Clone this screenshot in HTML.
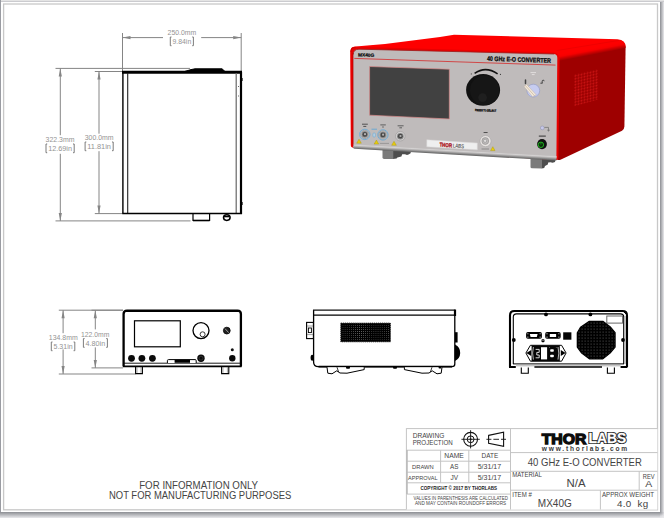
<!DOCTYPE html>
<html>
<head>
<meta charset="utf-8">
<title>MX40G Drawing</title>
<style>
html,body{margin:0;padding:0;background:#fff;overflow:hidden;}
body{width:664px;height:518px;position:relative;font-family:"Liberation Sans",sans-serif;}
svg{position:absolute;left:0;top:0;display:block;}
text{font-family:"Liberation Sans",sans-serif;}
.dim{stroke:#858585;stroke-width:1;fill:none;}
.dimtxt{fill:#939393;font-size:6.9px;}
.arrow{fill:#858585;stroke:none;}
.blk{stroke:#000;fill:none;}
.tb{stroke:#c4c4c4;stroke-width:1;fill:none;}
.tt{fill:#444;}
</style>
</head>
<body>
<svg width="664" height="518" viewBox="0 0 664 518">
<defs>
<linearGradient id="shR" x1="0" y1="0" x2="1" y2="0">
<stop offset="0" stop-color="#8c8e93"/><stop offset="1" stop-color="#e9e9ec"/>
</linearGradient>
<linearGradient id="shB" x1="0" y1="0" x2="0" y2="1">
<stop offset="0" stop-color="#8c8e93"/><stop offset="1" stop-color="#e9e9ec"/>
</linearGradient>
<radialGradient id="shC" gradientUnits="userSpaceOnUse" cx="660" cy="512" r="6"><stop offset="0" stop-color="#8c8e93"/><stop offset="0.7" stop-color="#dcdce0"/><stop offset="1" stop-color="#e9e9ec"/></radialGradient>
</defs>
<!-- PAGE FRAME -->
<g id="frame">
<rect x="0" y="0" width="664" height="518" fill="#fff"/>
<rect x="0" y="0" width="664" height="1" fill="#e4e4e4"/>
<rect x="0" y="1" width="664" height="1" fill="#cbcbcf"/>
<rect x="0" y="0" width="1" height="518" fill="#9a9ca2"/>
<rect x="660" y="2" width="4" height="510" fill="url(#shR)"/>
<rect x="0" y="512" width="660" height="6" fill="url(#shB)"/>
<rect x="660" y="512" width="4" height="6" fill="url(#shC)"/>
<rect x="3.6" y="4" width="653.9" height="505.8" fill="none" stroke="#c8c8c8" stroke-width="1.3"/>
</g>
<!-- TOPVIEW -->
<g id="topview">
<!-- 250 dim -->
<path class="dim" d="M122.5 33V71 M241.2 33V71 M122.5 37.6H163 M201.2 37.6H241.2"/>
<path class="arrow" d="M122.5 37.6l8-1.6v3.2z M241.2 37.6l-8-1.6v3.2z"/>
<text class="dimtxt" x="167.6" y="35" textLength="28.7" lengthAdjust="spacingAndGlyphs">250.0mm</text>
<path d="M171.5 37.0H170.3V45.7H171.5 M192.2 37.0H193.4V45.7H192.2" stroke="#757575" stroke-width="0.95" fill="none"/><text class="dimtxt" x="172.5" y="44" textLength="18.7" lengthAdjust="spacingAndGlyphs">9.84in</text>
<!-- 322.3 dim -->
<path class="dim" d="M55.5 68.4H190 M55.5 220.9H190.5 M60.3 68.4V135.2 M60.3 153.8V220.9"/>
<path class="arrow" d="M60.3 68.4l-1.6 8h3.2z M60.3 220.9l-1.6-8h3.2z"/>
<text class="dimtxt" x="45.6" y="142" textLength="28.9" lengthAdjust="spacingAndGlyphs">322.3mm</text>
<path d="M47.2 144.0H46.0V152.7H47.2 M73.0 144.0H74.2V152.7H73.0" stroke="#757575" stroke-width="0.95" fill="none"/><text class="dimtxt" x="48.2" y="151" textLength="23.8" lengthAdjust="spacingAndGlyphs">12.69in</text>
<!-- 300 dim -->
<path class="dim" d="M94.8 71.5H122 M94.8 213.6H122 M99 71.5V133.7 M99 151.2V213.6"/>
<path class="arrow" d="M99 71.5l-1.6 8h3.2z M99 213.6l-1.6-8h3.2z"/>
<text class="dimtxt" x="84.7" y="140" textLength="28.9" lengthAdjust="spacingAndGlyphs">300.0mm</text>
<path d="M86.3 142.0H85.1V150.7H86.3 M112.0 142.0H113.2V150.7H112.0" stroke="#757575" stroke-width="0.95" fill="none"/><text class="dimtxt" x="87.3" y="149" textLength="23.7" lengthAdjust="spacingAndGlyphs">11.81in</text>
<!-- body -->
<path d="M122 72.3H242" stroke="#000" stroke-width="3" fill="none"/>
<path d="M184.5 71.5L191 69.6L195 68.8H222L225 71.5z" fill="#000" stroke="#000" stroke-width="1"/>
<path d="M122.9 72V213.5" stroke="#000" stroke-width="1.4" fill="none"/>
<path d="M127.7 73V213.5" stroke="#222" stroke-width="1.1" fill="none"/>
<path d="M241 72V214" stroke="#000" stroke-width="2.2" fill="none"/>
<path d="M236.2 73V213.5" stroke="#666" stroke-width="1.2" fill="none"/>
<path d="M122.2 213.5H242" stroke="#000" stroke-width="1.3" fill="none"/>
<path d="M193 214V220.5H209.6V214" stroke="#000" stroke-width="1.2" fill="none"/>
<path d="M193 220.5H209.6" stroke="#000" stroke-width="1.6" fill="none"/>
<ellipse cx="226.8" cy="217.6" rx="3.3" ry="2.8" fill="#fff" stroke="#000" stroke-width="1.5"/>
<path d="M224 216.6H229.6" stroke="#000" stroke-width="1.4"/>
<path d="M238.5 86v1 M238.5 95.5v1" stroke="#444" stroke-width="0.8"/>
<path d="M242 78v3 M242 202v3" stroke="#000" stroke-width="1.2"/>
</g>
<!-- ISO -->
<g id="iso">
<defs>
<linearGradient id="edgeG" gradientUnits="userSpaceOnUse" x1="590.8" y1="48.6" x2="592" y2="54.9">
<stop offset="0" stop-color="#fd0000"/><stop offset="0.3" stop-color="#f60000"/><stop offset="0.7" stop-color="#c40000"/><stop offset="1" stop-color="#9e0000"/>
</linearGradient>
<linearGradient id="botG" gradientUnits="userSpaceOnUse" x1="450" y1="149.9" x2="449.74" y2="154.4">
<stop offset="0" stop-color="#c8c5c5"/><stop offset="0.18" stop-color="#d4d2d2"/><stop offset="0.45" stop-color="#b0aeae"/><stop offset="0.75" stop-color="#808080"/><stop offset="1" stop-color="#626262"/>
</linearGradient>
<radialGradient id="knobG" cx="0.5" cy="0.78" r="0.22">
<stop offset="0" stop-color="#2c2c2c"/><stop offset="0.8" stop-color="#181818"/><stop offset="1" stop-color="#101010"/>
</radialGradient>
</defs>
<!-- feet -->
<path d="M393 149.5L411 151L410.6 153.2L408.6 154.6L407 155L405 154.2L402.2 154.2L401.4 156.6L397.4 157.4L396.6 158.6L393 159z" fill="#4e4e4e"/>
<path d="M382.5 149H393.3V159L384 158.9Q382.5 158.8 382.5 157.5z" fill="#7b7b7b"/>
<path d="M541.8 158.5L555.6 159.5L555 162L552.6 162.8L550.4 162.2L548.2 162.4L547.8 164.6L545 166L544.2 168L541.8 168.4z" fill="#4e4e4e"/>
<path d="M530.5 158H542V168.4L532 168.3Q530.5 168.2 530.5 167z" fill="#7b7b7b"/>
<!-- top face -->
<path d="M351.2 48.5Q352 46.6 356 46.4L370 45.3L385 44L440 36.9L454 34.7L617.5 39.2Q625.6 39.6 625.6 47L559.5 62L556 56L352 50z" fill="#fe0000"/>
<!-- side face -->
<path d="M557.5 58L625.6 46.6L624.4 126.5Q624.3 129.5 622 130.8L561 159.6Q556.6 161.4 556.4 157z" fill="#9e0000"/>
<!-- rounded edge gradient -->
<path d="M556.5 50.6L619 40.2Q625.6 40.5 625.6 48L559.6 62.2L557 57z" fill="url(#edgeG)"/>
<path d="M556.5 50.6L619 40.4" stroke="#e60000" stroke-width="0.6" fill="none"/>
<!-- front face red frame -->
<path d="M350.2 52Q350.2 46.6 355.5 46.8L553 52.4Q559.6 52.6 559.6 59L558.4 157Q558.3 160.4 556 160L353.5 147.8Q350.8 147.8 350.8 145z" fill="#e80000"/>
<path d="M350.9 52Q350.8 47.4 355.5 47.6" stroke="#c00000" stroke-width="0.8" fill="none"/>
<!-- front gray panel -->
<path d="M353 55Q353 49.1 359 49.3L553.5 54Q557.4 54.2 557.3 58L556.4 158.2L353.2 146.6z" fill="#bfbbbb"/>
<!-- bottom bevel -->
<path d="M353.1 144.2L556.6 156.1L556.4 160.6L354.4 148.8Q353 148.6 353.1 147z" fill="url(#botG)"/>
<path d="M353 53V146" stroke="#b00000" stroke-width="0.7" fill="none"/>
<path d="M353.2 54.5Q353.4 49.2 359 49.2L554 54" stroke="#9a1c1c" stroke-width="0.8" fill="none"/>
<!-- title line -->
<path d="M354.3 58.4L555.5 65.1" stroke="#d23a3a" stroke-width="0.9" fill="none"/>
<text x="0" y="0" font-size="4.7" font-weight="bold" fill="#0a0a0a" stroke="#0a0a0a" stroke-width="0.2" transform="translate(358 56.4) rotate(1.5) scale(1.02 1)">MX40G</text>
<text x="0" y="0" font-size="6.5" font-weight="bold" fill="#0a0a0a" stroke="#0a0a0a" stroke-width="0.25" transform="translate(486.9 60.7) rotate(1.9) scale(0.823 1)">40 GHz E-O CONVERTER</text>
<!-- screen -->
<path d="M369.6 66.5L449.3 69.2L449.3 119L369.6 115.2z" fill="#414141" stroke="#d88a8a" stroke-width="0.7"/>
<!-- knob -->
<path d="M474.6 73.4Q485.6 65.6 497.6 73.9" stroke="#111" stroke-width="1.5" fill="none"/>
<circle cx="471.3" cy="73.9" r="0.55" fill="#444"/><circle cx="500.4" cy="74.4" r="0.55" fill="#333"/>
<ellipse cx="483.1" cy="89.9" rx="17" ry="15.9" fill="#111111"/>
<ellipse cx="484.6" cy="90.2" rx="14.6" ry="14.8" fill="#161616"/>
<circle cx="482.6" cy="97.6" r="4.3" fill="#1f1f1f"/>
<text x="0" y="0" font-size="3" font-weight="bold" fill="#0a0a0a" stroke="#0a0a0a" stroke-width="0.3" transform="translate(475 111.1) rotate(2) scale(0.76 1)">PRESS TO SELECT</text>
<!-- vents -->
<defs>
<pattern id="vent" width="3" height="2.9" patternUnits="userSpaceOnUse" patternTransform="matrix(1 -0.225 0 1 574 74.6)">
<rect width="3" height="2.9" fill="#9a0000"/><ellipse cx="1.5" cy="1.5" rx="1.2" ry="0.95" fill="#c81212" transform="rotate(-25 1.5 1.5)"/>
</pattern>
</defs>
<path d="M574 74.6L598 69.2V99.4L574 106.4z" fill="url(#vent)"/>
<!-- connectors -->
<g>
<circle cx="364.8" cy="134.4" r="5.2" fill="#c4d3df" stroke="#5fa6d6" stroke-width="0.8"/>
<circle cx="364.8" cy="134.4" r="4.2" fill="#cfcdcd" stroke="#808080" stroke-width="0.6"/>
<circle cx="364.8" cy="134.4" r="3.3" fill="#8c8c8c"/>
<circle cx="364.8" cy="134.4" r="2.4" fill="#484848"/>
<circle cx="365.0" cy="134.20000000000002" r="1.1" fill="#b2b2b2"/>
<circle cx="382.9" cy="134.9" r="5.2" fill="#c4d3df" stroke="#5fa6d6" stroke-width="0.8"/>
<circle cx="382.9" cy="134.9" r="4.2" fill="#cfcdcd" stroke="#808080" stroke-width="0.6"/>
<circle cx="382.9" cy="134.9" r="3.3" fill="#8c8c8c"/>
<circle cx="382.9" cy="134.9" r="2.4" fill="#484848"/>
<circle cx="383.09999999999997" cy="134.70000000000002" r="1.1" fill="#b2b2b2"/>
<circle cx="400.3" cy="136.2" r="4.8" fill="#d2d0d0" stroke="#a09e9e" stroke-width="0.7"/>
<circle cx="400.3" cy="136.2" r="3.3" fill="#8c8c8c"/>
<circle cx="400.3" cy="136.2" r="2.4" fill="#484848"/>
<circle cx="400.5" cy="136.0" r="1.1" fill="#b2b2b2"/>
<rect x="372.9" y="133" width="2.5" height="4" rx="1" fill="#b7cfe2" stroke="#62a6d4" stroke-width="0.5"/>
<path d="M371.5 129.2H377" stroke="#62a6d4" stroke-width="0.9"/>
<path d="M362 124.2H367.8 M363.3 126.4H366.3" stroke="#444" stroke-width="0.9"/>
<path d="M380.3 124.9H385.8 M382.2 127H383.8" stroke="#555" stroke-width="0.9"/>
<path d="M397.6 125.8H403.6 M399.4 127.8H402" stroke="#555" stroke-width="0.9"/>
<path d="M359 139.2l2.3 4h-4.6z M376.4 140.1l2.3 4h-4.6z M394 141.3l2.3 4h-4.6z M492.8 146.7l2.2 3.9h-4.4z" fill="#e6cc10" stroke="#a89400" stroke-width="0.4"/>
<path d="M379.8 143.4H389" stroke="#8a8a8a" stroke-width="0.7"/>
</g>
<!-- THORLABS label -->
<path d="M426.8 139.8L477.3 143.1V149.8L426.8 146.8z" fill="#efefef" stroke="#d8d6d6" stroke-width="0.5"/>
<text x="0" y="0" font-size="5.7" font-weight="bold" fill="#aa1420" stroke="#aa1420" stroke-width="0.35" transform="translate(439.4 146.6) rotate(3.4) scale(0.78 1)">THOR</text>
<text x="0" y="0" font-size="5.5" fill="#5a5a5a" stroke="#5a5a5a" stroke-width="0.15" transform="translate(452.7 147.4) rotate(3.4) scale(0.8 1)">LABS</text>
<!-- RF connector -->
<circle cx="485.5" cy="141.1" r="5.6" fill="#e6e2e0" stroke="#a8a6a6" stroke-width="0.6"/>
<circle cx="485.3" cy="141" r="3.4" fill="#bdbaba" stroke="#8c8a8a" stroke-width="0.6"/>
<circle cx="485.1" cy="140.8" r="1.6" fill="#e0dede" stroke="#777" stroke-width="0.4"/>
<path d="M483.6 132.5H487.6" stroke="#444" stroke-width="0.9"/>
<path d="M481.5 149H489" stroke="#777" stroke-width="0.7"/>
<!-- key switch -->
<path d="M530.5 72.6H536 M531.8 74.6H534.6" stroke="#e4e2e2" stroke-width="0.9"/>
<path d="M525.5 80v3.4" stroke="#444" stroke-width="1.5" stroke-linecap="round"/>
<path d="M540.4 83.2h2.2 M542.2 83v-1.8a1 1 0 0 1 2 0" stroke="#444" stroke-width="1" fill="none"/>
<circle cx="533.3" cy="90.6" r="6.4" fill="#c6ccf0" stroke="#9098c4" stroke-width="0.6"/>
<path d="M524 86.6L526.6 84.4L536.2 94.8L532.6 96.8z" fill="#f0e8dc" stroke="#b8a898" stroke-width="0.4"/>
<path d="M525.6 85.8L534.6 95.9" stroke="#c4a98c" stroke-width="0.6"/>
<!-- enable -->
<circle cx="542.3" cy="127.9" r="1.9" fill="#c6c8ea" stroke="#8a8ca8" stroke-width="0.5"/>
<path d="M544.4 127.4H548.5V130" stroke="#777" stroke-width="0.8" fill="none"/>
<path d="M547 129.8h3l-1.5 2z" fill="#777"/>
<path d="M538.8 136.1H545.8" stroke="#333" stroke-width="1"/>
<ellipse cx="542" cy="144.1" rx="4.9" ry="5.1" fill="#101010"/>
<circle cx="540.9" cy="144.8" r="2.7" fill="#0a2a0a" stroke="#1fb41f" stroke-width="1"/>
<path d="M540.9 142.6v2" stroke="#1fb41f" stroke-width="0.7"/>
</g>
<!-- FRONT -->
<g id="front">
<path class="dim" d="M58.8 310.2H123 M58.8 374H135.5 M63.1 310.2V333.2 M63.1 349.4V374"/>
<path class="arrow" d="M63.1 310.2l-1.6 8h3.2z M63.1 374l-1.6-8h3.2z"/>
<text class="dimtxt" x="48.8" y="340" textLength="28.9" lengthAdjust="spacingAndGlyphs">134.8mm</text>
<path d="M52.5 342.0H51.3V350.7H52.5 M73.6 342.0H74.8V350.7H73.6" stroke="#757575" stroke-width="0.95" fill="none"/><text class="dimtxt" x="53.5" y="349" textLength="19.1" lengthAdjust="spacingAndGlyphs">5.31in</text>
<path class="dim" d="M91.5 310.2H123 M91.5 367.9H123 M95.3 310.2V329.4 M95.3 347.4V367.9"/>
<path class="arrow" d="M95.3 310.2l-1.6 8h3.2z M95.3 367.9l-1.6-8h3.2z"/>
<text class="dimtxt" x="81" y="336.7" textLength="28.4" lengthAdjust="spacingAndGlyphs">122.0mm</text>
<path d="M84.6 338.6H83.4V347.3H84.6 M106.2 338.6H107.4V347.3H106.2" stroke="#757575" stroke-width="0.95" fill="none"/><text class="dimtxt" x="85.6" y="345.6" textLength="19.6" lengthAdjust="spacingAndGlyphs">4.80in</text>
<!-- body -->
<path d="M123.6 366.5V314Q123.6 310.6 127 310.6H237.5Q240.9 310.6 240.9 314V366.5" stroke="#000" stroke-width="2.3" fill="none"/>
<path d="M123 366.4H241.6" stroke="#000" stroke-width="1.8" fill="none"/>
<path d="M124 363.2H240.6" stroke="#000" stroke-width="0.9" fill="none"/>
<path d="M126 311.4H238.5" stroke="#000" stroke-width="1.4" fill="none"/>
<rect x="134.5" y="320.8" width="45.8" height="26" fill="none" stroke="#000" stroke-width="1.2"/>
<circle cx="201" cy="330.6" r="8" fill="none" stroke="#000" stroke-width="1.3"/>
<circle cx="202.6" cy="334.3" r="2.5" fill="none" stroke="#222" stroke-width="0.9"/>
<circle cx="226.8" cy="330.6" r="3.4" fill="#222" stroke="#000" stroke-width="0.8"/>
<path d="M225 328.6L228.6 332.6" stroke="#aaa" stroke-width="0.9"/>
<circle cx="232.3" cy="349.8" r="1.5" fill="#111"/>
<circle cx="232.3" cy="358.3" r="3.2" fill="#0a0a0a"/>
<circle cx="131.5" cy="358.3" r="3.4" fill="#0a0a0a"/>
<circle cx="141.9" cy="358.3" r="3.4" fill="#0a0a0a"/>
<circle cx="152.4" cy="358.3" r="3.4" fill="#0a0a0a"/>
<circle cx="201" cy="358.2" r="3.7" fill="#0a0a0a"/>
<circle cx="201" cy="358.2" r="2" fill="none" stroke="#555" stroke-width="0.5"/>
<path d="M167.4 363V360.6Q167.4 359.6 168.6 359.6H195Q196.2 359.6 196.2 360.6V363" stroke="#000" stroke-width="1" fill="#fff"/>
<rect x="174.6" y="359.8" width="15.4" height="3" fill="#000"/>
<path d="M135.6 367V373.6H142.4V367" stroke="#000" stroke-width="1.1" fill="none"/>
<path d="M221.6 367V373.6H228.8V367" stroke="#000" stroke-width="1.1" fill="none"/>
<path d="M137 367.2v5.6 M141 367.2v5.6 M223 367.2v5.6 M227.4 367.2v5.6" stroke="#555" stroke-width="0.5"/>
</g>
<!-- SIDE -->
<g id="side">
<defs>
<pattern id="svent" width="2.06" height="2.06" patternUnits="userSpaceOnUse" patternTransform="translate(340.6 322.9)">
<rect width="2.06" height="2.06" fill="#000"/><rect x="0" y="0" width="0.62" height="0.62" fill="#808080"/>
</pattern>
</defs>
<path d="M313.6 310V362Q313.6 366.6 318.4 366.6H452Q454.8 366.6 454.8 364V310" fill="none" stroke="#000" stroke-width="1.3"/>
<path d="M313.6 315.1H454.8" stroke="#000" stroke-width="1.2"/>
<path d="M313 310.1H455.4" stroke="#111" stroke-width="1.3"/>
<path d="M455 309.6V316" stroke="#000" stroke-width="2.2"/>
<path d="M318.5 366.7H452" stroke="#000" stroke-width="1.8"/>
<rect x="340.8" y="323.1" width="49.6" height="18.7" fill="url(#svent)"/>
<path d="M340.8 323.1h49.6v18.7h-49.6z" fill="none" stroke="#000" stroke-width="0.8" stroke-dasharray="1.3 0.76"/>
<!-- left connector -->
<rect x="306.6" y="322.4" width="6.8" height="16.2" fill="#fff" stroke="#000" stroke-width="1.1"/>
<rect x="308.4" y="328" width="3" height="4.6" fill="#fff" stroke="#000" stroke-width="0.9"/>
<path d="M307 326H313 M307 334.6H313" stroke="#777" stroke-width="0.7"/>
<ellipse cx="312.2" cy="357.8" rx="1.6" ry="3" fill="#000"/>
<!-- right bumps -->
<rect x="455" y="332.2" width="2.6" height="10.3" fill="#000"/>
<path d="M455 344.4Q460.4 347 460.2 353Q460 358.6 455 361z" fill="#000"/>

<!-- feet -->
<path d="M327 367.2L327.8 373.2L332 373.8L336.8 370.8L340 373L347 373.2L364.2 369.6V367.2" fill="#fff" stroke="#000" stroke-width="1"/>
<path d="M337 367.2L338.6 372" stroke="#000" stroke-width="0.8"/>
<rect x="346" y="366.6" width="4" height="2.2" rx="1" fill="#000"/>
<path d="M442 367.2L441.2 373.2L437 373.8L432.2 370.8L429 373L422 373.2L404.4 369.6V367.2" fill="#fff" stroke="#000" stroke-width="1"/>
<path d="M432 367.2L430.4 372" stroke="#000" stroke-width="0.8"/>
<rect x="393" y="366.6" width="4" height="2.2" rx="1" fill="#000"/>
<rect x="438.5" y="366.6" width="3" height="2" rx="1" fill="#000"/>
</g>
<!-- REAR -->
<g id="rear">
<defs>
<pattern id="fan" width="3" height="3" patternUnits="userSpaceOnUse" patternTransform="translate(575.6 319.6)">
<rect width="3" height="3" fill="#000"/><rect x="0" y="0" width="0.9" height="0.8" fill="#7a7a7a"/>
</pattern>
</defs>
<path d="M510 367V315.4Q510 311 514.4 311H622.6Q627 311 627 315.4V367" fill="none" stroke="#000" stroke-width="2.1"/>
<path d="M513.3 364V317Q513.3 313.9 516.5 313.9H620.5Q623.7 313.9 623.7 317V364" fill="none" stroke="#000" stroke-width="1.1"/>

<path d="M513 363.9H624" stroke="#000" stroke-width="1"/>
<path d="M516 365.8H620.5" stroke="#777" stroke-width="0.6"/>
<path d="M534.4 367H602" stroke="#000" stroke-width="1.7"/>
<path d="M509 367h6.8 M620.6 367h6.8" stroke="#000" stroke-width="2.2"/>
<path d="M625 316V364" stroke="#b4b4b4" stroke-width="1.6"/>
<path d="M623 311L626.5 314.5" stroke="#000" stroke-width="1"/>
<circle cx="546" cy="314.4" r="1.9" fill="#000"/>
<circle cx="590.4" cy="314.4" r="1.9" fill="#000"/>
<circle cx="513.8" cy="340" r="1.9" fill="#000"/>
<circle cx="623" cy="340" r="1.9" fill="#000"/>
<rect x="606.8" y="316" width="15.8" height="7.1" fill="#fff" stroke="#666" stroke-width="1"/>
<!-- fan -->
<path d="M589.4 321.4H602.8L610.6 327.4L615 332.8V347L610.6 352.4L602.8 358.8H589.4L581.4 352.6L577.4 347V332.8L580.6 327.4z" fill="#000" stroke="#000" stroke-width="1.4" stroke-linejoin="round"/><path d="M589.4 321.4H602.8L610.6 327.4L615 332.8V347L610.6 352.4L602.8 358.8H589.4L581.4 352.6L577.4 347V332.8L580.6 327.4z" fill="url(#fan)"/>
<!-- DB9 -->
<rect x="526.1" y="332.1" width="15.8" height="6.6" rx="1.8" fill="#000"/>
<path d="M529.8 334H537.6L536.8 337H530.6z" fill="#fff"/>
<circle cx="527.9" cy="333.7" r="0.55" fill="#fff"/><circle cx="527.9" cy="337.1" r="0.55" fill="#fff"/><circle cx="540.1" cy="333.7" r="0.55" fill="#fff"/><circle cx="540.1" cy="337.1" r="0.55" fill="#fff"/>
<rect x="545.2" y="332.1" width="15.5" height="6.6" rx="1.8" fill="#000"/>
<rect x="549.8" y="334" width="6.3" height="3" fill="#fff"/>
<circle cx="547" cy="333.7" r="0.55" fill="#fff"/><circle cx="547" cy="337.1" r="0.55" fill="#fff"/><circle cx="558.9" cy="333.7" r="0.55" fill="#fff"/><circle cx="558.9" cy="337.1" r="0.55" fill="#fff"/>
<rect x="563.2" y="332.3" width="8.2" height="7.4" fill="#050505"/>
<rect x="541.5" y="339.2" width="3" height="3" rx="0.9" fill="#000"/>
<rect x="542.5" y="340" width="1" height="0.9" fill="#ccc"/>
<!-- power inlet -->
<path d="M525.9 353L530.4 345.3H561.6L566.1 353L561.6 361.2H530.4z" fill="#fff" stroke="#000" stroke-width="1"/>
<rect x="531.6" y="345.4" width="28.2" height="15.8" fill="#050505"/>
<path d="M526.4 353l4.8-3v6z M565.6 353l-4.8-3v6z" fill="#000"/>
<path d="M533.4 347Q531.8 353 533.4 359.6 M558 347Q559.6 353 558 359.6" stroke="#fff" stroke-width="0.7" fill="none"/>
<rect x="541" y="347.2" width="6.1" height="12.2" fill="#fff"/>
<path d="M535.6 349.4h3.6v3h-2.4v2.6h2.4v2.8h-3.6" fill="none" stroke="#eee" stroke-width="0.9"/>
<rect x="550.2" y="349.2" width="3.6" height="2.5" rx="0.8" fill="#fff"/>
<rect x="550.2" y="354.8" width="3.6" height="2.5" rx="0.8" fill="#fff"/>
<circle cx="549.6" cy="347.4" r="0.4" fill="#ccc"/><circle cx="556.2" cy="347.4" r="0.4" fill="#ccc"/>
<!-- feet -->
<path d="M521.3 367.6V373.2H528.3V367.6" fill="none" stroke="#000" stroke-width="1.1"/>
<path d="M607.4 367.6V373.2H614.4V367.6" fill="none" stroke="#000" stroke-width="1.1"/>
</g>
<!-- TITLEBLOCK -->
<g id="titleblock">
<rect x="406.4" y="428.6" width="251" height="81" fill="#fff"/>
<path class="tb" d="M406.4 428.6H657.5 M406.4 428.2V509.5 M510.5 428.6V509.5" stroke-width="1.3"/>
<path class="tb" d="M406.4 450.2H510.5 M406.4 461.2H510.5 M406.4 472.2H510.5 M406.4 482.8H510.5 M406.4 494.1H510.5" stroke-width="1.5"/>
<path class="tb" d="M440.6 450.2V482.8 M468.8 450.2V482.8" stroke-width="1.5"/>
<path class="tb" d="M510.5 452.6H657.5 M510.5 471.3H657.5 M510.5 490.2H657.5 M639.2 471.3V490.2 M600.4 490.2V509.5" stroke-width="1.2"/>
<path d="M406.9 450V494" stroke="#bdbdbd" stroke-width="1.8" fill="none"/>
<!-- left texts -->
<text class="tt" x="412.7" y="437.9" font-size="6.4" textLength="31.6" lengthAdjust="spacingAndGlyphs">DRAWING</text>
<text class="tt" x="412.7" y="444.8" font-size="6.4" textLength="40" lengthAdjust="spacingAndGlyphs">PROJECTION</text>
<text class="tt" x="444.3" y="457.9" font-size="6.6" textLength="19.5" lengthAdjust="spacingAndGlyphs">NAME</text>
<text class="tt" x="481.6" y="457.9" font-size="6.6" textLength="16.6" lengthAdjust="spacingAndGlyphs">DATE</text>
<text class="tt" x="412.1" y="468.8" font-size="5.6" textLength="21.6" lengthAdjust="spacingAndGlyphs">DRAWN</text>
<text class="tt" x="450" y="468.9" font-size="6.4" textLength="8.4" lengthAdjust="spacingAndGlyphs">AS</text>
<text class="tt" x="477.7" y="468.9" font-size="6.3" textLength="23.5" lengthAdjust="spacingAndGlyphs">5/31/17</text>
<text class="tt" x="408.1" y="479.8" font-size="5.5" textLength="29.5" lengthAdjust="spacingAndGlyphs">APPROVAL</text>
<text class="tt" x="450.5" y="479.9" font-size="6.4" textLength="7.6" lengthAdjust="spacingAndGlyphs">JV</text>
<text class="tt" x="477.7" y="479.9" font-size="6.3" textLength="23.5" lengthAdjust="spacingAndGlyphs">5/31/17</text>
<text x="420.4" y="489.6" font-size="4.7" font-weight="bold" fill="#222" textLength="76.7" lengthAdjust="spacingAndGlyphs">COPYRIGHT © 2017 BY THORLABS</text>
<text class="tt" x="413.6" y="499.5" font-size="4.5" textLength="94.3" lengthAdjust="spacingAndGlyphs">VALUES IN PARENTHESIS ARE CALCULATED</text>
<text class="tt" x="415" y="505.4" font-size="4.5" textLength="91.1" lengthAdjust="spacingAndGlyphs">AND MAY CONTAIN ROUNDOFF ERRORS</text>
<!-- projection symbol -->
<circle cx="470.6" cy="439.3" r="6.9" fill="none" stroke="#111" stroke-width="1.1"/>
<circle cx="470.6" cy="439.3" r="3.4" fill="none" stroke="#111" stroke-width="1"/>
<circle cx="470.6" cy="439.3" r="1" fill="#111"/>
<path d="M461.4 439.3H479.8 M470.6 430.2V448.4" stroke="#111" stroke-width="0.9"/>
<path d="M488.6 435.4L503.6 432.2V446.4L488.6 443.2z" fill="none" stroke="#111" stroke-width="1.1"/>
<path d="M486.4 439.3H491.4 M493.4 439.3H499 M501 439.3H506" stroke="#111" stroke-width="0.9"/>
<!-- right texts -->
<text x="541.7" y="443.7" font-size="14.9" font-weight="bold" fill="#0c0c0c" stroke="#0c0c0c" stroke-width="1.3" stroke-linejoin="miter" textLength="44.6" lengthAdjust="spacingAndGlyphs">THOR</text>
<text x="588.6" y="443.3" font-size="13.8" font-weight="bold" fill="#111" stroke="#111" stroke-width="2.1" stroke-linejoin="miter" textLength="37.6" lengthAdjust="spacingAndGlyphs">LABS</text>
<text x="588.6" y="443.3" font-size="13.8" font-weight="bold" fill="#fff" stroke="#fff" stroke-width="0.3" stroke-linejoin="miter" textLength="37.6" lengthAdjust="spacingAndGlyphs">LABS</text>
<text x="541.8" y="450.7" font-size="6.6" font-weight="bold" fill="#3a3a3a" textLength="85.4" lengthAdjust="spacing">www.thorlabs.com</text>
<text class="tt" x="527.8" y="466.2" font-size="10.3" textLength="114" lengthAdjust="spacingAndGlyphs">40 GHz E-O CONVERTER</text>
<text class="tt" x="512.2" y="476.9" font-size="6.4" textLength="29.6" lengthAdjust="spacingAndGlyphs">MATERIAL</text>
<text class="tt" x="566.6" y="487" font-size="10" textLength="19" lengthAdjust="spacingAndGlyphs">N/A</text>
<text class="tt" x="642.8" y="478.6" font-size="6.4" textLength="11.8" lengthAdjust="spacingAndGlyphs">REV</text>
<text class="tt" x="645.2" y="487.4" font-size="9.7" textLength="7" lengthAdjust="spacingAndGlyphs">A</text>
<text class="tt" x="512.2" y="497" font-size="6.4" textLength="19.6" lengthAdjust="spacingAndGlyphs">ITEM #</text>
<text class="tt" x="537.8" y="506.7" font-size="10" textLength="34" lengthAdjust="spacingAndGlyphs">MX40G</text>
<text class="tt" x="602" y="497" font-size="6.6" textLength="52" lengthAdjust="spacingAndGlyphs">APPROX WEIGHT</text>
<text class="tt" x="617" y="506.8" font-size="9.8" textLength="31.2" lengthAdjust="spacing" xml:space="preserve">4.0  kg</text>
</g>
<!-- NOTES -->
<g id="notes">
<text class="tt" x="139.2" y="489.3" font-size="10" textLength="118.9" lengthAdjust="spacingAndGlyphs">FOR INFORMATION ONLY</text>
<text class="tt" x="109" y="499.2" font-size="10" textLength="182.3" lengthAdjust="spacingAndGlyphs">NOT FOR MANUFACTURING PURPOSES</text>
</g>
</svg>
</body>
</html>
